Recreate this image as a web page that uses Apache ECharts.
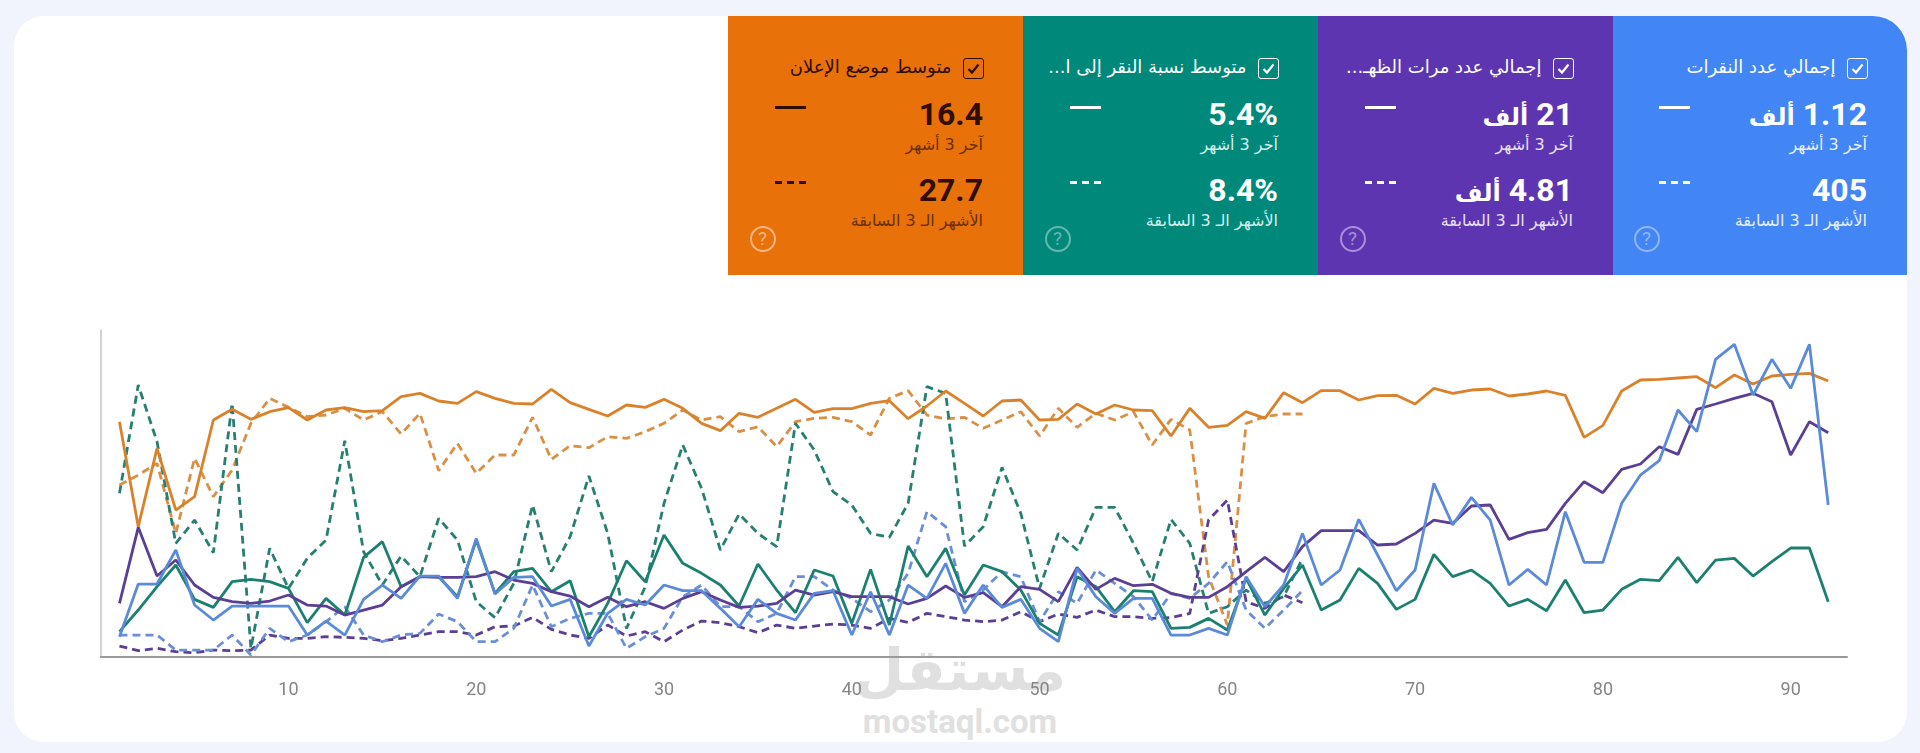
<!DOCTYPE html>
<html lang="ar">
<head>
<meta charset="utf-8">
<script src="https://cdn.jsdelivr.net/npm/echarts@6/dist/echarts.min.js"></script>
<style>
  html, body { margin: 0; padding: 0; width: 1920px; height: 753px; overflow: hidden; background: #f1f4fc; }
  #panel { position: absolute; left: 14px; top: 16px; width: 1893px; height: 726px; background: #fff; border-radius: 30px; }
  #graph { position: absolute; left: 0; top: 0; width: 1920px; height: 753px; }
  #watermark, #watermark2 { position: absolute; color: #e0e0e0; text-align: center; width: 260px; left: 830px; }
  #watermark { top: 632px; font: 700 58px 'DejaVu Sans'; direction: rtl; line-height: 76px; }
  #watermark2 { top: 703px; font: 700 33px Roboto; line-height: 38px; }
  .card { position: absolute; top: 16px; width: 295px; height: 259px; direction: rtl; font-family: Roboto, 'DejaVu Sans', sans-serif; }
  .card div { position: absolute; white-space: nowrap; }
  .check { right: 39px; top: 42px; width: 19px; height: 19px; border: 1.3px solid; border-radius: 3px; }
  .check svg { display: block; width: 19px; height: 19px; }
  .title { right: 71px; top: 39px; line-height: 24px; font-size: 18px; font-family: 'DejaVu Sans'; }
  .value { right: 39.5px; line-height: 40px; font-size: 32px; font-weight: 700; }
  .value span { font-size: 24px; }
  .value1 { top: 78px; } .value2 { top: 154px; }
  .sub { right: 39.5px; line-height: 20px; font-size: 16px; font-family: 'DejaVu Sans'; }
  .sub1 { top: 119px; } .sub2 { top: 195px; }
  .dash { left: 47px; width: 31px; height: 3px; }
  .dash1 { top: 90px; } .dash2 { top: 165px; }
  .help { left: 22px; top: 210px; width: 22px; height: 22px; border: 2px solid; border-radius: 50%; text-align: center; line-height: 22px; font-size: 19px; font-family: Roboto; direction: ltr; }
</style>
</head>
<body>
<div id="panel"></div>
<div id="watermark">مستقل</div>
<div id="watermark2">mostaql.com</div>
<div id="graph"></div>
<script>
// x axis days, 1..92
const days = []
for (let d = 1; d <= 92; d++) days.push(d)

// values, the axis has no y labels so the unit is arbitrary
const clicks = [6,21.8,21.8,32,15.5,11,15.2,15.2,15.2,15.2,6.5,10.7,6.5,17.2,21.5,17.5,24.2,24.2,17.5,35.5,18.8,23.8,24,15.2,17.2,3.2,13,17.2,15.5,21.5,19.8,19.8,14.5,9,17.2,13,11,19,19.8,6.5,19.5,6.5,21.5,17.5,28,13,21.5,14.8,17.2,8.5,4.5,26.5,18,13,17.5,17.5,6.5,6.5,8.5,6.5,24,15,21.5,37,21.5,26,41.2,30.5,19.8,26,52,39.5,47.8,41,21.5,26.2,21.5,43.5,28.3,28.3,46,54.5,58.8,74,67.5,89.2,93.7,78.5,89.2,80.5,93.7,45.5]
const clicksPrev = [6.5,6.5,6.5,2,2,2,6.5,0.5,8.5,4.5,6.5,10.5,15,6.5,4.5,6.5,7,12.8,10.5,4.5,4.5,8.5,21.5,9,11.5,13,13,2.5,6,8.5,18,21.5,15,15,10.5,13,24,24,20,17.5,13.5,17,25,43.5,39,16.5,20,25.5,24,10.5,19.5,16,26,22,18,11,19,17.5,22,28.5,14,8.5,14,19.8]
const impressions = [16,38.8,24.2,29,21.5,17.8,16.5,16,16.7,18.5,15.5,15.2,12.5,14,15.5,21,24,23.8,23.8,24,25.5,23,22,19.5,18.2,15,17.8,15,16.5,14.5,17.5,19.5,17,14.8,15.2,16,20,18.5,19.5,18,18,18,15.8,17.5,21.2,17.8,19.2,15,21,20.2,16.5,26.8,20.2,23.5,21.3,21.7,19,17.8,17.8,21,25.5,29.8,25.5,33,37.8,37.8,37.8,33.5,33.8,37,41,40,45.2,45.5,35.2,37.2,38.2,46,52.5,49.2,56.2,57.8,63,60.7,74.2,75.8,77.5,79,76.5,60.5,70.5,67.2]
const impressionsPrev = [3.2,1.8,2.5,1.5,1.2,2,1.8,2,6.5,5.5,5.5,6,5.8,5.5,4.8,5.5,6.5,7.5,7.5,6.5,9,9.2,11.8,8.2,6.5,5.5,9.5,6.2,7.5,4.5,8,10.7,10.2,9,7.2,9.5,8.5,9.2,9.8,9.5,8.5,11.5,10.3,13,12,11,10.5,11,13.5,10.5,12.8,11.8,14,12,12,11.5,11.7,13,41,47,16.5,14.5,18.5,16.2]
const ctr = [7.5,14,21,27.5,17.2,14.8,22.5,23.2,22.5,20.5,10.2,17.5,12.5,29.8,34.5,21,24,24,18,35,19,25.5,26.5,19.5,22.8,6,16,28.8,22.5,36.5,28,25,21.5,15.2,27.8,20,13.2,26,24.2,10,26.2,9.5,33.2,24,32.5,18.5,27.5,25.5,20,10,6.5,24,21,13.5,19.8,19.5,8.5,8.8,11.5,8,23.5,12.5,20.5,27.5,14,17,26.5,22,14.2,17.2,30.7,24,26,22,15.2,17.2,13.8,23,13.2,14,20.2,23.2,22.8,29.8,22.2,29,29.5,24.2,28.5,32.6,32.6,16.5]
const ctrPrev = [49,81.5,64.5,34,41,31.2,76,2.5,32.5,20.5,29.5,35,64.8,31.5,21.5,30.2,24,41.5,35,16.5,11.7,22,45.5,25.5,36,54.2,37,8.5,21,46,63.5,50.5,32,42.8,37,33,70,62,49.5,45.5,37,35.8,46,81,79,33.2,39,56.8,43,20.5,37,32,44.8,44.8,34,22.5,41.2,34,13,15,20,16,18,29.5]
const position = [70.5,39,62.5,44,48,71,74.2,71.2,73.5,74.7,71,74,74.7,73.5,73.8,78,79,76.7,76,79.5,77.5,76,75.8,80.2,76.2,74.2,72.2,75.5,74.8,77.2,74.5,70,67.8,73,71.8,74.5,77.2,73.3,74.4,74.4,76,76.8,71.4,75.2,79.7,76,72.2,76.7,77,71,71.2,75.8,72.8,75.5,74,73.8,66.2,74.5,68.8,69.4,73.5,71.5,79.2,76.2,79.8,79.8,77,78.3,78.4,75.8,80.5,79,80,80.3,78.2,78.8,79.7,78.4,65.8,69.4,79.7,83,83.2,83.6,84,80.7,84.5,81.8,84.2,84.7,85,82.7]
const positionPrev = [51.5,54.5,58,37,59.5,48,56,70,77.5,74.8,72,72.5,74.5,71,73.5,66.8,73,55.8,64,55,60.5,60.5,71.8,59.2,63.3,62.7,66,65.5,67.5,70,74,71,72,67.5,69,63,70.5,71.5,71.8,70.5,66.5,77.5,79.8,72.5,71.3,71.8,68.5,71,73.5,66.2,74.5,68.8,73,71,73.5,63.5,71.2,68,24,9.5,70,72,72.8,72.8]

// scorecards, right to left in the picture
const cardTitles = ['إجمالي عدد النقرات', 'إجمالي عدد مرات الظهـ...', 'متوسط نسبة النقر إلى ا...', 'متوسط موضع الإعلان']
const cardCurrent = ['1.12 <span>ألف</span>', '21 <span>ألف</span>', '5.4%', '16.4']
const cardPrevious = ['405', '4.81 <span>ألف</span>', '8.4%', '27.7']
const cardLeft = [1611.5, 1317.5, 1022.5, 727.5]
const cardColors = ['#4285f4', '#5e35b1', '#00897b', '#e8710a']
const cardText = ['#ffffff', '#ffffff', '#ffffff', '#2f0e00']
const cardSubText = ['#e6effe', '#e8e1f5', '#d6efeb', '#6b3003']
const cardHelp = ['#8fb6f9', '#a78fd9', '#66b8af', '#f6b681']
const lastLabel = 'آخر 3 أشهر'
const prevLabel = 'الأشهر الـ 3 السابقة'

cardTitles.forEach((title, i) => {
    let card = document.createElement('div')
    card.className = 'card'
    card.style.left = cardLeft[i] + 'px'
    card.style.background = cardColors[i]
    card.style.color = cardText[i]
    if (i === 0) card.style.borderTopRightRadius = '34px'
    let dashed = 'repeating-linear-gradient(90deg,' + cardText[i] + ' 0 7px,transparent 7px 12px)'
    card.innerHTML =
        '<div class="check"><svg viewBox="0 0 19 19"><path d="M4.5 10l3.5 3.5 6.5-8" fill="none" stroke="' + cardText[i] + '" stroke-width="2.2"/></svg></div>' +
        '<div class="title">' + title + '</div>' +
        '<div class="value value1">' + cardCurrent[i] + '</div>' +
        '<div class="sub sub1" style="color:' + cardSubText[i] + '">' + lastLabel + '</div>' +
        '<div class="value value2">' + cardPrevious[i] + '</div>' +
        '<div class="sub sub2" style="color:' + cardSubText[i] + '">' + prevLabel + '</div>' +
        '<div class="dash dash1" style="background:' + cardText[i] + '"></div>' +
        '<div class="dash dash2" style="background:' + dashed + '"></div>' +
        '<div class="help" style="color:' + cardHelp[i] + '">?</div>'
    document.body.appendChild(card)
})

const pairs = (values) => values.map((v, i) => [days[i], v])
const line = (name, values, color, dashedLine) => ({
    name: name,
    type: 'line',
    data: pairs(values),
    showSymbol: false,
    animation: false,
    lineStyle: { color: color, width: 2.8, type: dashedLine ? [8, 5] : 'solid' }
})

let myChart = echarts.init(document.getElementById('graph'))
let option = {
    grid: { left: 100.7, right: 73, top: 330, bottom: 96.3 },
    xAxis: {
        type: 'value',
        min: 0,
        max: 93,
        interval: 10,
        splitLine: { show: false },
        axisTick: { show: false },
        axisLine: { onZero: false, lineStyle: { color: '#9a9a9a', width: 2 } },
        axisLabel: {
            margin: 25,
            color: '#858585',
            fontFamily: 'Roboto',
            fontSize: 18,
            formatter: (v) => (v > 0 && v % 10 === 0 ? String(v) : '')
        }
    },
    yAxis: {
        type: 'value',
        min: 0,
        max: 98,
        splitLine: { show: false },
        axisTick: { show: false },
        axisLabel: { show: false },
        axisLine: { show: true, lineStyle: { color: '#c4c4c4', width: 1.5 } }
    },
    series: [
        line('position prev', positionPrev, '#d98f45', true),
        line('ctr prev', ctrPrev, '#267f71', true),
        line('impressions prev', impressionsPrev, '#5b3f95', true),
        line('clicks prev', clicksPrev, '#6a8fd6', true),
        line('position', position, '#d9822b', false),
        line('ctr', ctr, '#1c8070', false),
        line('impressions', impressions, '#5b3f95', false),
        line('clicks', clicks, '#5a8ad8', false)
    ]
}
option && myChart.setOption(option)
</script>
</body>
</html>
